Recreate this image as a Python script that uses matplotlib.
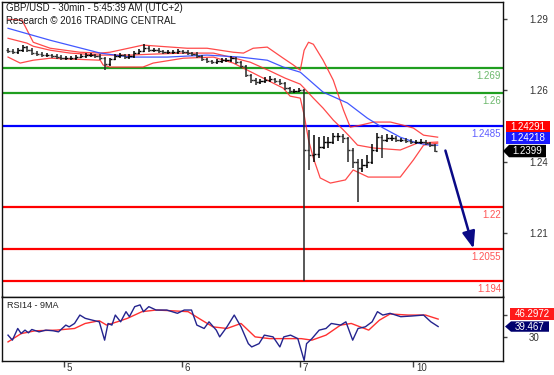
import numpy as np
import matplotlib
matplotlib.use("Agg")
import matplotlib.pyplot as plt
from matplotlib.patches import Polygon, Rectangle
import matplotlib.transforms as mtrans

plt.rcParams['font.family'] = ['Liberation Sans', 'DejaVu Sans']

# ---------------- data ----------------
title_line1 = "GBP/USD - 30min - 5:45:39 AM (UTC+2)"
title_line2 = "Research \u00a9 2016 TRADING CENTRAL"
rsi_title = "RSI14 - 9MA"

day_labels = ['5', '6', '7', '10']
day_tick_pos = [11.6, 35.8, 60.2, 83.5]     # hour index of each day start

first_open = 1.2752
closes = [
    1.2748, 1.2744, 1.2751, 1.2762, 1.2751, 1.2741, 1.2737, 1.2734, 1.2734, 1.2730,
    1.2727, 1.2723, 1.2723, 1.2723, 1.2727, 1.2730, 1.2734, 1.2734, 1.2730, 1.2723,
    1.2702, 1.2720, 1.2730, 1.2734, 1.2727, 1.2730, 1.2741, 1.2748, 1.2758, 1.2751,
    1.2751, 1.2748, 1.2744, 1.2744, 1.2744, 1.2748, 1.2744, 1.2741, 1.2737, 1.2730,
    1.2720, 1.2713, 1.2709, 1.2713, 1.2716, 1.2716, 1.2723, 1.2709, 1.2695, 1.2664,
    1.2646, 1.2639, 1.2643, 1.2646, 1.2650, 1.2643, 1.2636, 1.2618, 1.2608, 1.2608,
    1.2611, 1.2401, 1.2383, 1.2387, 1.2411, 1.2429, 1.2429, 1.2450, 1.2450, 1.2443,
    1.2401, 1.2359, 1.2338, 1.2348, 1.2359, 1.2401, 1.2446, 1.2436, 1.2443, 1.2443,
    1.2436, 1.2436, 1.2432, 1.2429, 1.2429, 1.2429, 1.2425, 1.2418, 1.2399]
highs = [
    1.2760, 1.2755, 1.2758, 1.2769, 1.2766, 1.2758, 1.2748, 1.2744, 1.2741, 1.2739,
    1.2737, 1.2734, 1.2730, 1.2732, 1.2734, 1.2737, 1.2741, 1.2741, 1.2739, 1.2737,
    1.2727, 1.2725, 1.2737, 1.2741, 1.2739, 1.2737, 1.2748, 1.2755, 1.2772, 1.2765,
    1.2760, 1.2758, 1.2753, 1.2751, 1.2751, 1.2755, 1.2753, 1.2751, 1.2746, 1.2744,
    1.2734, 1.2725, 1.2718, 1.2720, 1.2723, 1.2725, 1.2730, 1.2727, 1.2713, 1.2699,
    1.2667, 1.2653, 1.2650, 1.2657, 1.2660, 1.2655, 1.2650, 1.2639, 1.2622, 1.2615,
    1.2618, 1.2615, 1.2471, 1.2453, 1.2446, 1.2450, 1.2446, 1.2460, 1.2460, 1.2457,
    1.2446, 1.2408, 1.2369, 1.2369, 1.2383, 1.2422, 1.2460, 1.2453, 1.2457, 1.2453,
    1.2450, 1.2443, 1.2443, 1.2439, 1.2436, 1.2439, 1.2436, 1.2429, 1.2422]
lows = [
    1.2741, 1.2737, 1.2739, 1.2746, 1.2744, 1.2734, 1.2730, 1.2727, 1.2727, 1.2723,
    1.2720, 1.2718, 1.2716, 1.2718, 1.2718, 1.2723, 1.2725, 1.2727, 1.2723, 1.2716,
    1.2681, 1.2697, 1.2716, 1.2725, 1.2720, 1.2720, 1.2725, 1.2737, 1.2744, 1.2744,
    1.2744, 1.2741, 1.2737, 1.2737, 1.2739, 1.2739, 1.2737, 1.2734, 1.2730, 1.2723,
    1.2713, 1.2706, 1.2702, 1.2704, 1.2706, 1.2709, 1.2709, 1.2702, 1.2688, 1.2657,
    1.2636, 1.2629, 1.2632, 1.2636, 1.2639, 1.2636, 1.2629, 1.2611, 1.2601, 1.2601,
    1.2604, 1.1943, 1.2331, 1.2359, 1.2373, 1.2404, 1.2408, 1.2422, 1.2432, 1.2425,
    1.2359, 1.2338, 1.2219, 1.2324, 1.2338, 1.2352, 1.2394, 1.2373, 1.2429, 1.2432,
    1.2429, 1.2429, 1.2425, 1.2422, 1.2422, 1.2422, 1.2418, 1.2411, 1.2394]

# Bollinger bands and moving average, read at sample times (hour index)
bb_up_t = [0, 2.9, 5.2, 8.7, 14.8, 19, 21, 27.8, 36.9, 41, 46.4, 48.5, 50.5, 53.4, 56.7,
           58.8, 60.2, 61, 61.9, 62.9, 63.9, 64.9, 67, 69.1, 70.5, 72.6, 75.3, 78.8, 81.4,
           83.5, 85.6, 88.5]
bb_up = [1.2860, 1.2856, 1.2779, 1.2758, 1.2744, 1.2741, 1.2744, 1.2769, 1.2758, 1.2758,
         1.2744, 1.2741, 1.2758, 1.2762, 1.2723, 1.2699, 1.2681, 1.2751, 1.2779, 1.2772,
         1.2744, 1.2716, 1.2646, 1.2541, 1.2481, 1.2488, 1.2499, 1.2499, 1.2488, 1.2478,
         1.2453, 1.2446]
bb_mid_t = [0, 3.9, 5.2, 8.7, 12.8, 19, 25.2, 29.3, 36.1, 42.3, 45.8, 49.9, 54, 57.1, 60.2,
            61, 62.9, 64.9, 67, 69.1, 70.5, 72, 75.3, 80.8, 84.3, 88.5]
bb_mid = [1.2793, 1.2776, 1.2765, 1.2751, 1.2741, 1.2734, 1.2734, 1.2737, 1.2741, 1.2741,
          1.2727, 1.2709, 1.2678, 1.2653, 1.2632, 1.2618, 1.2583, 1.2548, 1.2506, 1.2471,
          1.2446, 1.2418, 1.2408, 1.2401, 1.2425, 1.2429]
bb_low_t = [0, 2.5, 5.2, 8.7, 19, 19.6, 21, 27.8, 29.9, 36.1, 42.3, 46.4, 48.5, 50.5, 53.4,
            56.7, 58.1, 60.2, 61, 61.9, 62.9, 64.3, 66.4, 69.5, 71.1, 74.2, 80.8, 83.5,
            85.6, 88.5]
bb_low = [1.2727, 1.2706, 1.2716, 1.2723, 1.2716, 1.2699, 1.2692, 1.2692, 1.2706, 1.2723,
          1.2727, 1.2706, 1.2688, 1.2671, 1.2646, 1.2618, 1.2590, 1.2583, 1.2524, 1.2436,
          1.2373, 1.2303, 1.2285, 1.2296, 1.2331, 1.2306, 1.2306, 1.2366, 1.2418, 1.2425]
ma_t = [0, 8.7, 19, 25.2, 32.8, 41, 47.8, 53.4, 56.7, 60.2, 64.9, 69.9, 74, 77.3, 80.8,
        84.3, 87, 88.5]
ma = [1.2828, 1.2786, 1.2741, 1.2727, 1.2727, 1.2734, 1.2727, 1.2716, 1.2692, 1.2674,
      1.2604, 1.2566, 1.2513, 1.2478, 1.2446, 1.2425, 1.2418, 1.2418]

# key levels
level_values = [1.269, 1.26, 1.2485, 1.22, 1.2055, 1.194]
level_labels = ['1.269', '1.26', '1.2485', '1.22', '1.2055', '1.194']
level_kinds = ['res', 'res', 'pivot', 'sup', 'sup', 'sup']
target_level = 1.2055

price_ticks = [1.211, 1.236, 1.261, 1.286]
last_box_values = [1.24291, 1.24218]
last_price = 1.2399

# RSI
rsi_t = [0, 0.9, 2.0, 2.7, 3.5, 4.2, 4.9, 6.4, 7.8, 9.3, 10.4, 11.9, 12.6, 13.7, 14.8,
         15.9, 17.3, 18.8, 19.9, 20.6, 21.4, 22.1, 23.2, 24.3, 25.0, 26.1, 27.2, 27.9,
         29.0, 30.5, 32.7, 34.9, 36.3, 37.8, 38.9, 40.4, 41.4, 42.9, 43.6, 45.1, 46.6,
         48.0, 49.5, 50.2, 51.7, 52.8, 54.6, 56.0, 56.8, 58.2, 59.7, 61.0, 61.5, 62.6,
         64.1, 65.5, 66.6, 68.5, 69.6, 71.0, 72.1, 73.6, 75.0, 76.1, 77.2, 78.7, 80.9,
         83.1, 85.6, 87.1, 88.6]
rsi = [31.6, 27.0, 37.7, 33.1, 36.2, 33.7, 36.8, 34.6, 36.2, 35.6, 34.6, 40.8, 39.2, 42.3,
       50.0, 47.0, 45.4, 43.8, 27.0, 42.3, 40.8, 50.0, 43.8, 53.1, 48.5, 57.7, 59.3, 53.1,
       57.7, 54.6, 54.6, 51.6, 54.6, 54.6, 40.8, 37.7, 43.8, 36.2, 30.0, 39.2, 50.0, 39.2,
       23.8, 20.8, 23.8, 31.6, 30.0, 20.8, 30.0, 31.6, 28.4, 8.4, 23.8, 28.4, 36.2, 37.7,
       42.3, 40.8, 43.8, 27.0, 37.7, 39.2, 43.8, 53.1, 50.0, 51.6, 48.5, 49.1, 50.0, 43.8,
       39.467]
rsi_ma_t = [0, 2.7, 5.6, 10.0, 13.7, 15.9, 18.8, 20.3, 22.5, 24.6, 27.6, 30.5, 33.4, 37.1,
            39.3, 42.2, 45.1, 48.0, 50.9, 53.9, 56.8, 60.4, 62.6, 65.5, 68.5, 70.7, 74.3,
            76.5, 78.7, 82.4, 86.0, 88.6]
rsi_ma = [25.4, 33.0, 35.6, 36.2, 37.7, 42.3, 44.8, 40.8, 43.8, 47.0, 53.1, 54.6, 54.0,
          53.1, 47.0, 39.2, 37.7, 42.3, 30.0, 28.4, 28.4, 28.4, 27.0, 31.6, 40.8, 42.3, 36.2,
          45.3, 51.0, 50.0, 50.0, 46.2972]
rsi_ticks = [30, 50]
rsi_tick_labels = ['30', '']     # the 50 label is covered by the value box in the original

# ---------------- figure ----------------
W, H = 554, 375
fig = plt.figure(figsize=(W / 100, H / 100), dpi=100)


def fx(px):
    return px / W


def fy(py):
    return 1 - py / H


ax = fig.add_axes([fx(2), fy(296.5), fx(502.5) - fx(2), fy(1.5) - fy(296.5)])
ax2 = fig.add_axes([fx(2), fy(361), fx(502.5) - fx(2), fy(296.5) - fy(361)])

ax.set_xlim(-1.24, 101.86)
ax2.set_xlim(-1.24, 101.86)
ax.set_ylim(1.1887, 1.2922)
ax2.set_ylim(7.9, 67.0)

for a in (ax, ax2):
    for s in a.spines.values():
        s.set_color('#111111')
        s.set_linewidth(1.0)

# levels
lvl_col = {'res': '#1f9e1f', 'pivot': '#0000ff', 'sup': '#ff0000'}
lvl_txt = {'res': '#6cb86c', 'pivot': '#5c5cff', 'sup': '#ff5555'}
for v, lab, kind in zip(level_values, level_labels, level_kinds):
    ax.axhline(v, color=lvl_col[kind], lw=1.6, zorder=2)
    ax.annotate(lab, xy=(1, v), xycoords=('axes fraction', 'data'),
                xytext=(-1.0, -2.2), textcoords='offset points',
                ha='right', va='top', fontsize=7, color=lvl_txt[kind], zorder=6)

# bands and MA
ax.plot(bb_up_t, bb_up, color='#ff2a2a', lw=0.9, alpha=0.85, zorder=3)
ax.plot(bb_mid_t, bb_mid, color='#ff2a2a', lw=0.9, alpha=0.85, zorder=3)
ax.plot(bb_low_t, bb_low, color='#ff2a2a', lw=0.9, alpha=0.85, zorder=3)
ax.plot(ma_t, ma, color='#2e46ff', lw=0.9, alpha=0.9, zorder=3)

# OHLC bars
t = np.arange(len(closes))
opens = np.r_[first_open, np.array(closes[:-1])]
cl = np.array(closes)
cols = ['#000000' if c >= o else '#2a2a2a' for o, c in zip(opens, cl)]
ax.vlines(t, lows, highs, colors=cols, lw=1.1, zorder=4)
ax.hlines(opens, t - 0.45, t, colors=cols, lw=1.0, zorder=4)
ax.hlines(cl, t, t + 0.45, colors=cols, lw=1.0, zorder=4)

# forecast arrow
t_last = t[-1]
ax.annotate('', xy=(t_last + 7.9, target_level), xytext=(t_last + 2.1, last_price),
            arrowprops=dict(arrowstyle='-|>,head_length=0.85,head_width=0.32',
                            color='#0a0a86', lw=1.8, mutation_scale=12,
                            shrinkA=0, shrinkB=0), zorder=5)

# axes ticks
ax.set_xticks([])
ax.yaxis.tick_right()
ax.set_yticks(price_ticks)
ax.set_yticklabels([f'{v:.2f}' for v in price_ticks])
ax.tick_params(axis='y', direction='out', length=3, width=1, pad=16,
               labelsize=7, labelcolor='#333333', color='#444444')

# RSI
ax2.plot(rsi_ma_t, rsi_ma, color='#ff3030', lw=1.0, zorder=3)
ax2.plot(rsi_t, rsi, color='#24248e', lw=1.0, zorder=4)
ax2.yaxis.tick_right()
ax2.set_yticks(rsi_ticks)
ax2.set_yticklabels(rsi_tick_labels)
ax2.tick_params(axis='y', direction='out', length=3, width=1, pad=16,
                labelsize=7, labelcolor='#333333', color='#444444')
ax2.set_xticks(day_tick_pos)
ax2.set_xticklabels(day_labels)
ax2.tick_params(axis='x', direction='out', length=4, width=1, pad=-2.8,
                labelsize=7, labelcolor='#333333', color='#444444')
shift = mtrans.ScaledTranslation(2.5 / 100, 0, fig.dpi_scale_trans)
for lab in ax2.get_xticklabels():
    lab.set_horizontalalignment('left')
    lab.set_transform(lab.get_transform() + shift)

# titles
fig.text(fx(6), fy(8), title_line1, fontsize=7, color='#1a1a1a', va='center', ha='left')
fig.text(fx(6), fy(21), title_line2, fontsize=7, color='#1a1a1a', va='center', ha='left')
fig.text(fx(7), fy(305), rsi_title, fontsize=6.5, color='#222222', va='center', ha='left')


# value boxes on right
def ypx(a, v):
    return H - a.transData.transform((0, v))[1]


def rect_box(x0, x1, y0, y1, fc, txt):
    fig.add_artist(Rectangle((fx(x0), fy(y1)), fx(x1) - fx(x0), fy(y0) - fy(y1),
                             transform=fig.transFigure, facecolor=fc, edgecolor='none',
                             zorder=5))
    fig.text(fx((x0 + x1) / 2), fy((y0 + y1) / 2), txt, color='white', fontsize=7,
             ha='center', va='center', zorder=6)


def pointer_box(x_tip, x1, yc, hh, fc, txt):
    pts = [(x_tip, yc), (x_tip + 6, yc - hh), (x1, yc - hh), (x1, yc + hh), (x_tip + 6, yc + hh)]
    fig.add_artist(Polygon([(fx(x), fy(y)) for x, y in pts], closed=True,
                           transform=fig.transFigure, facecolor=fc, edgecolor='none',
                           zorder=5))
    fig.text(fx((x_tip + 6 + x1) / 2), fy(yc), txt, color='white', fontsize=7,
             ha='center', va='center', zorder=6)


yc = ypx(ax, last_price)
pointer_box(503, 546, yc + 0.5, 6.2, '#000000', f'{last_price}')
rect_box(506, 550, yc - 18.5, yc - 6.5, '#1a1aff', f'{last_box_values[1]}')
rect_box(506, 550, yc - 29.5, yc - 18.5, '#ff0000', f'{last_box_values[0]}')

yr = ypx(ax2, rsi[-1])
pointer_box(505, 549, yr, 5.2, '#00006e', f'{rsi[-1]}')
rect_box(510, 554, yr - 18.5, yr - 6.2, '#ff1a1a', f'{rsi_ma[-1]}')

fig.savefig('out.png', dpi=100)
